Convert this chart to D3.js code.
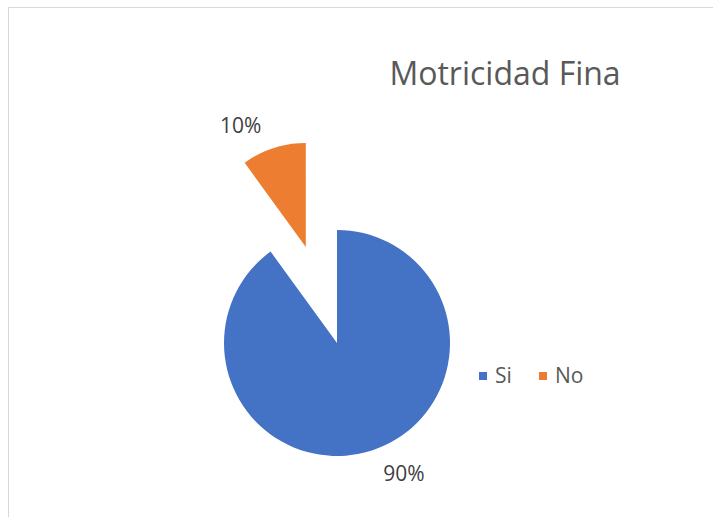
<!DOCTYPE html>
<html>
<head>
<meta charset="utf-8">
<script src="https://cdn.jsdelivr.net/npm/d3@7"></script>
<style>
  body { margin: 0; background: #fff; }
  svg { display: block; font-family: "Open Sans", "Noto Sans", sans-serif; }
</style>
</head>
<body>
<svg width="713" height="517"></svg>
<script>
var title = 'Motricidad Fina';
var categories = ['Si', 'No'];
var values = [90, 10];
var colors = ['#4472c4', '#ed7d31'];

var width = 713;
var height = 517;
var cx = 337, cy = 343;

var svg = d3.select('svg');

// chart area border (runs past the window on right and bottom)
svg.append('rect')
  .attr('x', 8.5).attr('y', 7.5)
  .attr('width', 800).attr('height', 600)
  .attr('fill', 'none')
  .attr('stroke', '#d9d9d9');

svg.append('text')
  .attr('x', 505).attr('y', 85)
  .attr('text-anchor', 'middle')
  .attr('font-size', 32)
  .attr('fill', '#595959')
  .text(title);

var colorScale = d3.scaleOrdinal().domain(categories).range(colors);

var arcs = d3.pie().sort(null).value(d => d)(values);

// the "No" slice is pulled out and drawn a bit smaller
var radius = [113, 104];
var explode = [0, 101];

function mid(d) { return (d.startAngle + d.endAngle) / 2; }

var g = svg.append('g').attr('transform', 'translate(' + cx + ',' + cy + ')');

g.selectAll('.slice')
  .data(arcs)
  .enter()
  .append('path')
  .classed('slice', true)
  .attr('fill', (d, i) => colorScale(categories[i]))
  .attr('transform', function(d, i) {
    var a = mid(d);
    return 'translate(' + (Math.sin(a) * explode[i]) + ',' + (-Math.cos(a) * explode[i]) + ')';
  })
  .attr('d', (d, i) => d3.arc().innerRadius(0).outerRadius(radius[i])(d));

// data labels just outside the outer edge of each slice, nudged diagonally
var nudge = [[32, 23], [-33, -22]];
g.selectAll('.lbl')
  .data(arcs)
  .enter()
  .append('text')
  .classed('lbl', true)
  .attr('x', (d, i) => Math.sin(mid(d)) * (explode[i] + radius[i]) + nudge[i][0])
  .attr('y', (d, i) => -Math.cos(mid(d)) * (explode[i] + radius[i]) + nudge[i][1])
  .attr('dy', '0.35em')
  .attr('text-anchor', 'middle')
  .attr('font-size', 21)
  .attr('fill', '#404040')
  .text(d => d.data + '%');

// legend
var legend = svg.append('g').attr('transform', 'translate(479,376)');
var item = legend.selectAll('.item')
  .data(categories)
  .enter()
  .append('g')
  .attr('transform', (d, i) => 'translate(' + (i * 60) + ',0)');

item.append('rect')
  .attr('x', 0).attr('y', -4)
  .attr('width', 8).attr('height', 8)
  .attr('fill', d => colorScale(d));

item.append('text')
  .attr('x', 16).attr('y', 0)
  .attr('dy', '0.35em')
  .attr('font-size', 21)
  .attr('fill', '#595959')
  .text(d => d);
</script>
</body>
</html>
